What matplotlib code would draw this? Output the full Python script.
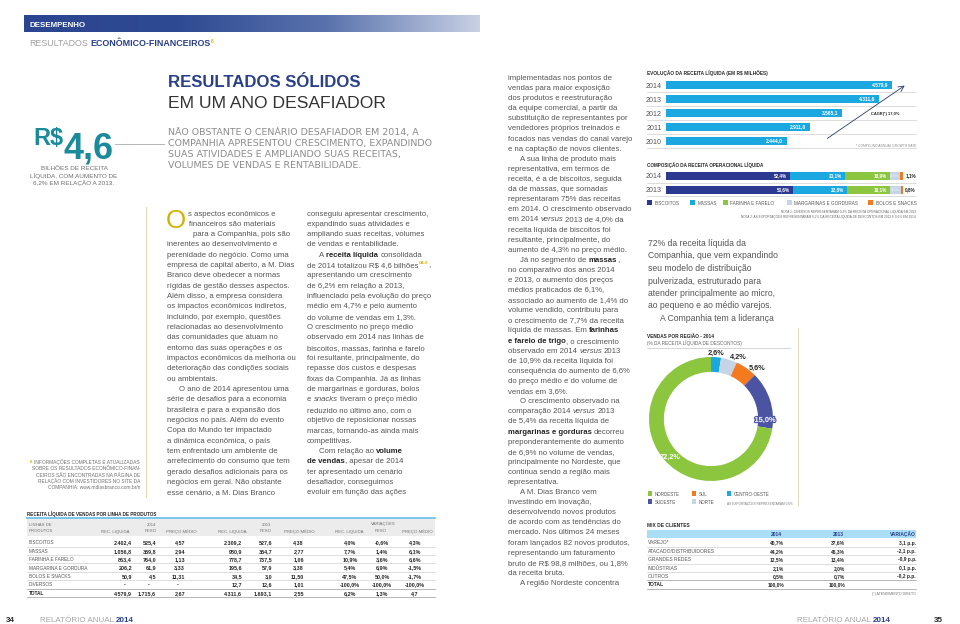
import re
import numpy as np
import matplotlib
matplotlib.use('Agg')
import matplotlib.pyplot as plt
from matplotlib import font_manager
from matplotlib import patheffects as pe
from matplotlib.patches import Rectangle
from matplotlib.colors import LinearSegmentedColormap

# fonte condensada, parecida com a DIN do relatório
nomes = {f.name for f in font_manager.fontManager.ttflist}
COND = 'Liberation Sans Narrow' if 'Liberation Sans Narrow' in nomes else 'Liberation Sans'
LARGA = ['Liberation Sans', 'DejaVu Sans']
MUITO_LARGA = ['DejaVu Sans']
plt.rcParams['font.family'] = [COND, 'DejaVu Sans']

# ---------------- dados ----------------
anos = ['2010', '2011', '2012', '2013', '2014']
receita = [2444.0, 2911.0, 3565.1, 4311.6, 4579.9]
cagr = 'CAGR(*) 17,0%'

comp_anos = ['2013', '2014']
comp_series = ['BISCOITOS', 'MASSAS', 'FARINHA E FARELO', 'MARGARINAS E GORDURAS', 'BOLOS E SNACKS']
comp_2013 = [53.6, 22.8, 18.1, 4.5, 0.8]
comp_2014 = [52.4, 23.1, 18.9, 4.5, 1.1]

regioes = ['CENTRO-OESTE', 'NORTE', 'SUL', 'SUDESTE', 'NORDESTE']
regiao_pct = [2.6, 4.2, 5.6, 15.0, 72.2]

produtos = ['BISCOITOS', 'MASSAS', 'FARINHA E FARELO', 'MARGARINA E GORDURA',
            'BOLOS E SNACKS', 'DIVERSOS', 'TOTAL']
rec14 = ['2.402,4', '1.056,8', '863,4', '206,2', '50,9', '-', '4.579,9']
peso14 = ['525,4', '359,8', '764,0', '61,9', '4,5', '-', '1.715,6']
preco14 = ['4,57', '2,94', '1,13', '3,33', '11,31', '-', '2,67']
rec13 = ['2.309,2', '980,9', '778,7', '195,6', '34,5', '12,7', '4.311,6']
peso13 = ['527,6', '354,7', '737,5', '57,9', '3,0', '12,6', '1.693,1']
preco13 = ['4,38', '2,77', '1,06', '3,38', '11,50', '1,01', '2,55']
var_rec = ['4,0%', '7,7%', '10,9%', '5,4%', '47,5%', '-100,0%', '6,2%']
var_peso = ['-0,6%', '1,4%', '3,6%', '6,9%', '50,0%', '-100,0%', '1,3%']
var_preco = ['4,3%', '6,1%', '6,6%', '-1,5%', '-1,7%', '-100,0%', '4,7']

mix_cat = ['VAREJO*', 'ATACADO/DISTRIBUIDORES', 'GRANDES REDES', 'INDÚSTRIAS', 'OUTROS', 'TOTAL']
mix14 = ['40,7%', '44,2%', '12,5%', '2,1%', '0,5%', '100,0%']
mix13 = ['37,6%', '46,3%', '13,4%', '2,0%', '0,7%', '100,0%']
mix_var = ['3,1 p.p.', '-2,1 p.p.', '-0,9 p.p.', '0,1 p.p.', '-0,2 p.p.', '']

subtitulo = ['NÃO OBSTANTE O CENÁRIO DESAFIADOR EM 2014, A',
             'COMPANHIA APRESENTOU CRESCIMENTO, EXPANDINDO',
             'SUAS ATIVIDADES E AMPLIANDO SUAS RECEITAS,',
             'VOLUMES DE VENDAS E RENTABILIDADE.']

col1 = ['s aspectos econômicos e',
        'financeiros são materiais',
        'para a Companhia, pois são',
        'inerentes ao desenvolvimento e',
        'perenidade do negócio. Como uma',
        'empresa de capital aberto, a M. Dias',
        'Branco deve obedecer a normas',
        'rígidas de gestão desses aspectos.',
        'Além disso, a empresa considera',
        'os impactos econômicos indiretos,',
        'incluindo, por exemplo, questões',
        'relacionadas ao desenvolvimento',
        'das comunidades que atuam no',
        'entorno das suas operações e os',
        'impactos econômicos da melhoria ou',
        'deterioração das condições sociais',
        'ou ambientais.',
        '>O ano de 2014 apresentou uma',
        'série de desafios para a economia',
        'brasileira e para a expansão dos',
        'negócios no país. Além do evento',
        'Copa do Mundo ter impactado',
        'a dinâmica econômica, o país',
        'tem enfrentado um ambiente de',
        'arrefecimento do consumo que tem',
        'gerado desafios adicionais para os',
        'negócios em geral. Não obstante',
        'esse cenário, a M. Dias Branco']

col2 = ['conseguiu apresentar crescimento,',
        'expandindo suas atividades e',
        'ampliando suas receitas, volumes',
        'de vendas e rentabilidade.',
        '>A **receita líquida** consolidada',
        'de 2014 totalizou R$ 4,6 bilhões^{G4-9},',
        'apresentando um crescimento',
        'de 6,2% em relação a 2013,',
        'influenciado pela evolução do preço',
        'médio em 4,7% e pelo aumento',
        'do volume de vendas em 1,3%.',
        'O crescimento no preço médio',
        'observado em 2014 nas linhas de',
        'biscoitos, massas, farinha e farelo',
        'foi resultante, principalmente, do',
        'repasse dos custos e despesas',
        'fixas da Companhia. Já as linhas',
        'de margarinas e gorduras, bolos',
        'e *snacks* tiveram o preço médio',
        'reduzido no último ano, com o',
        'objetivo de reposicionar nossas',
        'marcas, tornando-as ainda mais',
        'competitivas.',
        '>Com relação ao **volume**',
        '**de vendas**, apesar de 2014',
        'ter apresentado um cenário',
        'desafiador, conseguimos',
        'evoluir em função das ações']

col3 = ['implementadas nos pontos de',
        'vendas para maior exposição',
        'dos produtos e reestruturação',
        'da equipe comercial, a partir da',
        'substituição de representantes por',
        'vendedores próprios treinados e',
        'focados nas vendas do canal varejo',
        'e na captação de novos clientes.',
        '>A sua linha de produto mais',
        'representativa, em termos de',
        'receita, é a de biscoitos, seguida',
        'da de massas, que somadas',
        'representaram 75% das receitas',
        'em 2014. O crescimento observado',
        'em 2014 *versus* 2013 de 4,0% da',
        'receita líquida de biscoitos foi',
        'resultante, principalmente, do',
        'aumento de 4,3% no preço médio.',
        '>Já no segmento de **massas**,',
        'no comparativo dos anos 2014',
        'e 2013, o aumento dos preços',
        'médios praticados de 6,1%,',
        'associado ao aumento de 1,4% do',
        'volume vendido, contribuiu para',
        'o crescimento de 7,7% da receita',
        'líquida de massas. Em **farinhas**',
        '**e farelo de trigo**, o crescimento',
        'observado em 2014 *versus* 2013',
        'de 10,9% da receita líquida foi',
        'consequência do aumento de 6,6%',
        'do preço médio e do volume de',
        'vendas em 3,6%.',
        '>O crescimento observado na',
        'comparação 2014 *versus* 2013',
        'de 5,4% da receita líquida de',
        '**margarinas e gorduras** decorreu',
        'preponderantemente do aumento',
        'de 6,9% no volume de vendas,',
        'principalmente no Nordeste, que',
        'continua sendo a região mais',
        'representativa.',
        '>A M. Dias Branco vem',
        'investindo em inovação,',
        'desenvolvendo novos produtos',
        'de acordo com as tendências do',
        'mercado. Nos últimos 24 meses',
        'foram lançados 82 novos produtos,',
        'representando um faturamento',
        'bruto de R$ 98,8 milhões, ou 1,8%',
        'da receita bruta.',
        '>A região Nordeste concentra']

col4 = ['72% da receita líquida da',
        'Companhia, que vem expandindo',
        'seu modelo de distribuição',
        'pulverizada, estruturado para',
        'atender principalmente ao micro,',
        'ao pequeno e ao médio varejos.',
        '>A Companhia tem a liderança']

nota_rodape = ['INFORMAÇÕES COMPLETAS E ATUALIZADAS',
               'SOBRE OS RESULTADOS ECONÔMICO-FINAN-',
               'CEIROS SÃO ENCONTRADAS NA PÁGINA DE',
               'RELAÇÃO COM INVESTIDORES NO SITE DA',
               'COMPANHIA: www.mdiasbranco.com.br/ri']

# ---------------- cores ----------------
NAVY = '#2b3990'
AZUL_T = '#2a3f88'
TEAL = '#1b8b9c'
CIANO = '#1ba8e1'
VERDE = '#8cc63f'
LARANJA = '#f47a20'
CLARO = '#c6d5e6'
ROXO = '#4b54a3'
CINZA = '#555555'
ESCURO = '#262626'
OURO = '#d4b000'
LINHA = '#cfcfcf'
comp_cores = [NAVY, CIANO, VERDE, CLARO, LARANJA]
reg_cores = [CIANO, CLARO, LARANJA, ROXO, VERDE]

W, H = 960, 624
fig = plt.figure(figsize=(9.6, 6.24), dpi=100)
bg = fig.add_axes([0, 0, 1, 1])
bg.set_xlim(0, W)
bg.set_ylim(H, 0)
bg.axis('off')
R = fig.canvas.get_renderer()


def tw(t):
    return t.get_window_extent(renderer=R).width


def fit(s, alvo, **kw):
    t = bg.text(0, 0, s, fontsize=10, **kw)
    w = tw(t)
    t.remove()
    return 10.0 * alvo / w


def px_axes(x0, y0, x1, y1):
    a = fig.add_axes([x0 / W, 1 - y1 / H, (x1 - x0) / W, (y1 - y0) / H])
    a.set_facecolor('none')
    return a


_esp = {}


def espaco(size):
    if size not in _esp:
        a = bg.text(0, 0, 'n n', fontsize=size)
        b = bg.text(0, 0, 'nn', fontsize=size)
        _esp[size] = tw(a) - tw(b)
        a.remove()
        b.remove()
    return _esp[size]


TOK = re.compile(r'(\*\*.+?\*\*|\^\{.+?\}|\*[^*]+?\*)')


def rich(x, y, linha, size, cor=CINZA, cor_b=ESCURO):
    cx = x
    for p in TOK.split(linha):
        if not p:
            continue
        kw = dict(color=cor, fontsize=size)
        dy = 0
        if p.startswith('**'):
            p = p[2:-2]
            kw.update(fontweight='bold', color=cor_b)
        elif p.startswith('^{'):
            p = p[2:-1]
            kw.update(fontsize=size * 0.55, color=OURO, fontweight='bold')
            dy = -size * 0.55
        elif p.startswith('*') and p.endswith('*') and len(p) > 1:
            p = p[1:-1]
            kw.update(fontstyle='italic')
        n0 = len(p) - len(p.lstrip(' '))
        n1 = len(p) - len(p.rstrip(' '))
        cx += n0 * espaco(size)
        core = p.strip(' ')
        if core:
            t = bg.text(cx, y + dy, core, va='baseline', **kw)
            cx += tw(t)
        cx += n1 * espaco(size)
    return cx


def coluna(x, y0, passo, linhas, size, recuos=None):
    for i, ln in enumerate(linhas):
        dx = 0
        if ln.startswith('>'):
            ln = ln[1:]
            dx = 12
        if recuos and i < len(recuos):
            dx = recuos[i]
        rich(x + dx, y0 + i * passo, ln, size)


def fmt_br(v):
    return f'{v:,.1f}'.replace(',', 'X').replace('.', ',').replace('X', '.')


# ---------------- cabeçalho ----------------
grad = LinearSegmentedColormap.from_list('g', ['#2b4690', '#2e4a92', '#5a73ad', '#c7d0e4'])
bg.imshow(np.linspace(0, 1, 256)[None, :], extent=[24, 480, 32, 15], cmap=grad, aspect='auto')
s = fit('DESEMPENHO', 56, fontweight='bold')
bg.text(29, 27, 'DESEMPENHO', fontsize=s, color='white', fontweight='bold', va='baseline')
s = fit('RESULTADOS', 59)
rich(29, 46.5, 'RESULTADOS **ECONÔMICO-FINANCEIROS**^{6}', s, cor='#a0a0a0', cor_b=AZUL_T)

# ---------------- lateral esquerda ----------------
s = fit('R$', 30, fontweight='bold')
t = bg.text(33, 145, 'R$', fontsize=s, color=TEAL, fontweight='bold', va='baseline')
s = fit('4,6', 50, fontweight='bold')
bg.text(63, 159, '4,6', fontsize=s, color=TEAL, fontweight='bold', va='baseline')
bg.plot([115, 164], [144, 144], color='#b5b5b5', lw=0.7)
cap = ['BILHÕES DE RECEITA', 'LÍQUIDA, COM AUMENTO DE', '6,2% EM RELAÇÃO A 2013.']
s = fit(cap[1], 88)
for i, c in enumerate(cap):
    bg.text(74, 170.5 + i * 7.3, c, fontsize=s, color='#707070', ha='center', va='baseline')

bg.plot([146, 146], [207, 497], color='#e2dbbd', lw=0.8)
s = fit(nota_rodape[1], 110)
for i, c in enumerate(nota_rodape):
    t = bg.text(140, 464 + i * 6.3, c, fontsize=s, color='#707070', ha='right', va='baseline')
    if i == 0:
        w = tw(t)
        bg.text(140 - w - 2, 463, '6', fontsize=s * 0.9, color=OURO, fontweight='bold',
                ha='right', va='baseline')

# ---------------- título central ----------------
s = fit('RESULTADOS SÓLIDOS', 193, fontweight='bold')
bg.text(168, 87, 'RESULTADOS SÓLIDOS', fontsize=s, color=AZUL_T, fontweight='bold', va='baseline')
s = fit('EM UM ANO DESAFIADOR', 218, family=LARGA)
bg.text(168, 108.5, 'EM UM ANO DESAFIADOR', fontsize=s, color='#333333', va='baseline',
        family=LARGA)
s = fit(subtitulo[1], 265, family=MUITO_LARGA)
for i, c in enumerate(subtitulo):
    bg.text(168, 135 + i * 11, c, fontsize=s, color='#8c8c8c', va='baseline', family=MUITO_LARGA)

# ---------------- colunas de texto ----------------
CORPO = fit('impactos econômicos da melhoria ou', 128)
s = fit('O', 20)
bg.text(166, 228, 'O', fontsize=s, color=OURO, va='baseline')
coluna(167, 215.5, 10.33, col1, CORPO, recuos=[21, 22, 26])
coluna(307, 215.5, 10.33, col2, CORPO)
coluna(508, 80, 10.1, col3, CORPO)

# ---------------- evolução da receita ----------------
s = fit('EVOLUÇÃO DA RECEITA LÍQUIDA (EM R$ MILHÕES)', 119, fontweight='bold')
bg.text(647, 75.5, 'EVOLUÇÃO DA RECEITA LÍQUIDA (EM R$ MILHÕES)', fontsize=s,
        color=ESCURO, fontweight='bold', va='baseline')
ax1 = px_axes(666, 78, 916, 148)
ax1.barh(range(len(anos)), receita, height=0.52, color=CIANO)
ax1.set_xlim(0, 4579.9 * 250 / 226)
ax1.set_ylim(-0.5, len(anos) - 0.5)
ax1.set_xticks([])
ax1.set_yticks(range(len(anos)))
ax1.set_yticklabels(anos, fontsize=fit('2014', 16), color=CINZA)
ax1.tick_params(axis='y', length=0, pad=3)
for sp in ax1.spines.values():
    sp.set_visible(False)
sv = fit('4.579,9', 17, fontweight='bold')
for i, v in enumerate(receita):
    ax1.text(v - 70, i, fmt_br(v), ha='right', va='center', color='white',
             fontsize=sv, fontweight='bold')
for y in [91.7, 106, 120, 134.3, 148.3]:
    bg.plot([647, 916], [y, y], color=LINHA, lw=0.5)
bg.annotate('', xy=(907, 84), xytext=(825, 140),
            arrowprops=dict(arrowstyle='->', color='#2b3a6b', lw=0.6))
bg.text(871, 114.5, cagr, fontsize=fit(cagr, 29, fontweight='bold'), color=ESCURO,
        fontweight='bold', va='baseline')
nt = '* COMPOUND ANNUAL GROWTH RATE'
bg.text(916, 147, nt, fontsize=fit(nt, 60), color='#8a8a8a', ha='right', va='baseline',
        fontstyle='italic')

# ---------------- composição ----------------
tt = 'COMPOSIÇÃO DA RECEITA OPERACIONAL LÍQUIDA'
bg.text(647, 166.5, tt, fontsize=fit(tt, 118, fontweight='bold'), color=ESCURO,
        fontweight='bold', va='baseline')
ax2 = px_axes(666, 169, 903, 197)
esq = np.zeros(len(comp_anos))
sc = fit('52,4%', 13, fontweight='bold')
for k, serie in enumerate(comp_series):
    vals = np.array([comp_2013[k], comp_2014[k]])
    ax2.barh(range(len(comp_anos)), vals, left=esq, height=0.58, color=comp_cores[k])
    for j, v in enumerate(vals):
        lab = f'{v:.1f}%'.replace('.', ',')
        fim = esq[j] + v
        if k < 3:
            ax2.text(fim - 1.2, j, lab, ha='right', va='center', color='white',
                     fontsize=sc, fontweight='bold')
        elif k == 3:
            ax2.text(esq[j] + v / 2, j, lab, ha='center', va='center', color='white',
                     fontsize=sc * 0.9, alpha=0.8)
        else:
            ax2.text(fim + 1.0, j, lab, ha='left', va='center', color=ESCURO,
                     fontsize=sc, fontweight='bold')
    esq += vals
ax2.set_xlim(0, 100)
ax2.set_ylim(-0.5, len(comp_anos) - 0.5)
ax2.set_xticks([])
ax2.set_yticks(range(len(comp_anos)))
ax2.set_yticklabels(comp_anos, fontsize=fit('2014', 16), color=CINZA)
ax2.tick_params(axis='y', length=0, pad=3)
for sp in ax2.spines.values():
    sp.set_visible(False)
for y in [182.5, 196.3]:
    bg.plot([647, 916], [y, y], color=LINHA, lw=0.5)
sl = fit('BISCOITOS', 25)
xl = [647, 690, 723, 787, 868]
for k, serie in enumerate(comp_series):
    bg.add_patch(Rectangle((xl[k], 200.3), 4.6, 4.6, color=comp_cores[k], lw=0))
    bg.text(xl[k] + 7.5, 205, serie, fontsize=sl, color=CINZA, va='baseline')
n1 = 'NOTA 1: DIVERSOS REPRESENTARAM 0,2% DA RECEITA OPERACIONAL LÍQUIDA EM 2013'
n2 = 'NOTA 2: AS EXPORTAÇÕES REPRESENTARAM 0,2% DA RECEITA LÍQUIDA DE DESCONTOS EM 2013 E 0,6% EM 2014'
sn = fit(n2, 176)
bg.text(916, 213.5, n1, fontsize=sn, color='#666666', ha='right', va='baseline')
bg.text(916, 218, n2, fontsize=sn, color='#666666', ha='right', va='baseline')

CORPO4 = fit('atender principalmente ao micro,', 127)
coluna(648, 246, 12.5, col4, CORPO4)

# ---------------- vendas por região ----------------
t1 = 'VENDAS POR REGIÃO - 2014'
t2 = '(% DA RECEITA LÍQUIDA DE DESCONTOS)'
bg.text(647, 338, t1, fontsize=fit(t1, 66, fontweight='bold'), color=ESCURO,
        fontweight='bold', va='baseline')
bg.text(647, 344.5, t2, fontsize=fit(t2, 96), color='#666666', va='baseline')
bg.plot([647, 790], [347.5, 347.5], color=LINHA, lw=0.6)
bg.plot([798, 798], [328, 505], color='#e2dbbd', lw=0.8)

ax3 = px_axes(711 - 62, 419 - 62, 711 + 62, 419 + 62)
ax3.pie(regiao_pct, colors=reg_cores, startangle=90, counterclock=False, radius=1,
        wedgeprops=dict(width=0.24, edgecolor='none'))
ax3.set_xlim(-1, 1)
ax3.set_ylim(-1, 1)
lab_r = [1.07, 1.08, 1.1, 0.87, 0.9]
lab_desvio = [0, -7, -8, -20, 2]
lab_cor = [ESCURO, ESCURO, ESCURO, 'white', 'white']
lab_contorno = [None, None, None, ROXO, None]
sd = fit('72,2%', 21, fontweight='bold')
acum = 0
for k, v in enumerate(regiao_pct):
    ang = np.deg2rad(90 - (acum + v / 2) * 3.6 + lab_desvio[k])
    tx = ax3.text(lab_r[k] * np.cos(ang), lab_r[k] * np.sin(ang), f'{v:.1f}%'.replace('.', ','),
                  ha='center', va='center', color=lab_cor[k], fontsize=sd, fontweight='bold',
                  clip_on=False)
    if lab_contorno[k]:
        tx.set_path_effects([pe.withStroke(linewidth=1.6, foreground=lab_contorno[k])])
    acum += v

leg_ordem = [('NORDESTE', 648, 495.5), ('SUL', 692, 495.5), ('CENTRO-OESTE', 727, 495.5),
             ('SUDESTE', 648, 503.5), ('NORTE', 692, 503.5)]
sr = fit('NORDESTE', 25)
for nome, x, y in leg_ordem:
    c = reg_cores[regioes.index(nome)]
    bg.add_patch(Rectangle((x, y - 4.4), 4.4, 4.4, color=c, lw=0))
    bg.text(x + 7, y, nome, fontsize=sr, color=CINZA, va='baseline')
ne = 'AS EXPORTAÇÕES REPRESENTARAM 0,6%'
bg.text(727, 505, ne, fontsize=fit(ne, 65), color='#777777', va='baseline')

# ---------------- mix de clientes ----------------
bg.text(647, 527, 'MIX DE CLIENTES', fontsize=fit('MIX DE CLIENTES', 42, fontweight='bold'),
        color=ESCURO, fontweight='bold', va='baseline')
bg.add_patch(Rectangle((647, 529.5), 269, 8.5, color='#a9def6', lw=0))
sm = fit('40,7%', 14, fontweight='bold')
for x, lab, ha in [(776, '2014', 'center'), (838.5, '2013', 'center'), (916, 'VARIAÇÃO', 'right')]:
    bg.text(x, 536, lab, fontsize=sm, color=AZUL_T, fontweight='bold', ha=ha, va='baseline')
sml = fit('ATACADO/DISTRIBUIDORES', 67)
for i, cat in enumerate(mix_cat):
    y = 544.5 + i * 8.4
    tot = cat == 'TOTAL'
    bg.text(648, y, cat, fontsize=sml, color=ESCURO if tot else CINZA,
            fontweight='bold' if tot else 'normal', va='baseline')
    for x, col in [(784, mix14), (845, mix13), (916, mix_var)]:
        bg.text(x, y, col[i], fontsize=sm, color=ESCURO, fontweight='bold', ha='right', va='baseline')
    bg.plot([647, 916], [y + 2.3, y + 2.3], color='#9a9a9a' if tot or i == 4 else LINHA, lw=0.5)
fr = '(*) ATENDIMENTO DIRETO'
bg.text(916, 595, fr, fontsize=fit(fr, 44), color='#777777', ha='right', va='baseline')

# ---------------- tabela por linha de produtos ----------------
tt = 'RECEITA LÍQUIDA DE VENDAS POR LINHA DE PRODUTOS'
bg.text(27, 516, tt, fontsize=fit(tt, 130, fontweight='bold'), color=ESCURO,
        fontweight='bold', va='baseline')
bg.add_patch(Rectangle((27, 518), 408, 18, color='#ececec', lw=0))
bg.plot([27, 435], [518, 518], color='#6fc1ea', lw=1.3)
sh = fit('PREÇO MÉDIO', 30)
cab = [(29, 525.5, 'LINHAS DE', 'left'), (29, 532.5, 'PRODUTOS', 'left'),
       (151, 525.5, '2014', 'center'), (266, 525.5, '2013', 'center'),
       (383, 525.5, 'VARIAÇÕES', 'center')]
for x, y, lab, ha in cab:
    bg.text(x, y, lab, fontsize=sh, color='#707070', ha=ha, va='baseline')
for x, lab in [(115, 'REC. LÍQUIDA'), (151, 'PESO'), (181, 'PREÇO MÉDIO'),
               (232, 'REC. LÍQUIDA'), (266, 'PESO'), (299, 'PREÇO MÉDIO'),
               (349, 'REC. LÍQUIDA'), (381, 'PESO'), (417, 'PREÇO MÉDIO')]:
    bg.text(x, 532.5, lab, fontsize=sh, color='#707070', ha='center', va='baseline')
sp_l = fit('MARGARINA E GORDURA', 58)
sp_v = fit('2.402,4', 18, fontweight='bold')
colunas = [(132, rec14, 'right'), (156, peso14, 'right'), (185, preco14, 'right'),
           (242, rec13, 'right'), (272, peso13, 'right'), (304, preco13, 'right'),
           (350, var_rec, 'center'), (382, var_peso, 'center'), (415, var_preco, 'center')]
for i, prod in enumerate(produtos):
    y = 544.3 + i * 8.4
    tot = prod == 'TOTAL'
    bg.text(29, y, prod, fontsize=sp_l, color=ESCURO if tot else CINZA,
            fontweight='bold' if tot else 'normal', va='baseline')
    for x, col, ha in colunas:
        v = col[i]
        if v == '-':
            bg.text(x - 7, y, v, fontsize=sp_v, color=ESCURO, fontweight='bold', ha='center', va='baseline')
        else:
            bg.text(x, y, v, fontsize=sp_v, color=ESCURO, fontweight='bold', ha=ha, va='baseline')
    bg.plot([27, 435], [y + 2.3, y + 2.3], color='#9a9a9a' if tot or i == 5 else LINHA, lw=0.5)

# ---------------- rodapé ----------------
sf = fit('RELATÓRIO ANUAL 2014', 94)
bg.text(6, 622, '34', fontsize=sf, color=ESCURO, fontweight='bold', va='baseline')
rich(40, 622, 'RELATÓRIO ANUAL **2014**', sf, cor='#a5a5a5', cor_b=AZUL_T)
rich(797, 622, 'RELATÓRIO ANUAL **2014**', sf, cor='#a5a5a5', cor_b=AZUL_T)
bg.text(934, 622, '35', fontsize=sf, color=ESCURO, fontweight='bold', va='baseline')

bg.set_xlim(0, W)
bg.set_ylim(H, 0)
fig.savefig('out.png', dpi=100)
